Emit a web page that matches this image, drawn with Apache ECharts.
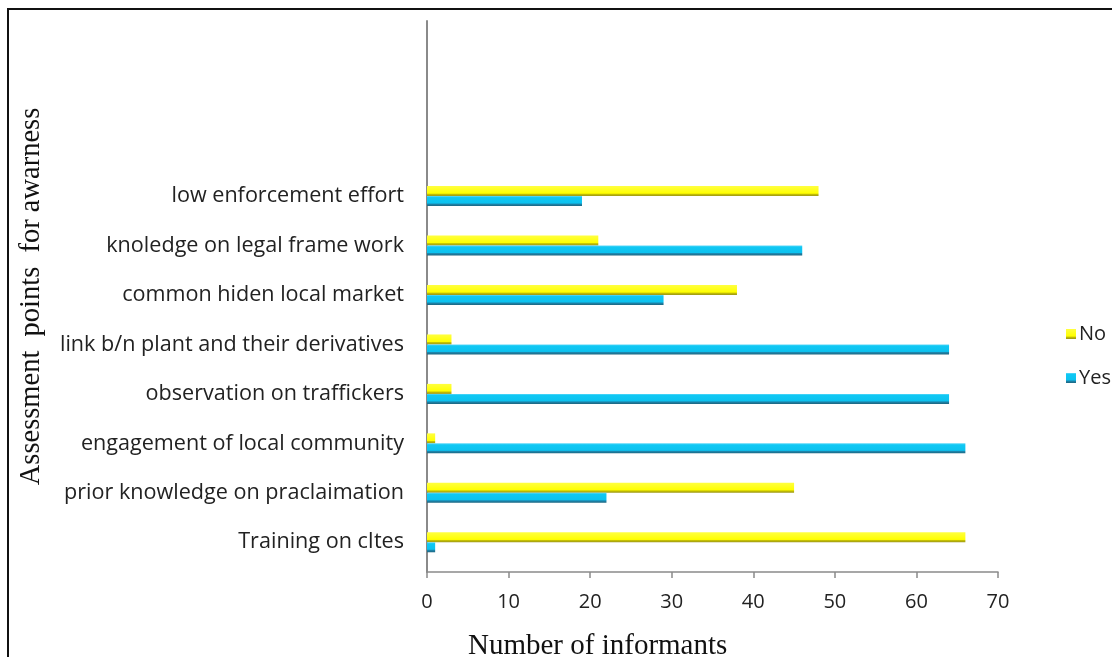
<!DOCTYPE html>
<html>
<head>
<meta charset="utf-8">
<script src="https://cdn.jsdelivr.net/npm/echarts@6/dist/echarts.min.js"></script>
<style>html,body{margin:0;padding:0;background:#fff}#c{width:1112px;height:657px}</style>
</head>
<body>
<div id="c"></div>
<script>
// Categories bottom to top (three blank rows at the top, as in the source chart)
const categories = ["Training on cItes", "prior knowledge on praclaimation", "engagement of local community",
  "observation on traffickers", "link b/n plant and their derivatives", "common hiden local market",
  "knoledge on legal frame work", "low enforcement effort", "", "", ""];
const noValues  = [66, 45, 1, 3, 3, 38, 21, 48, null, null, null];
const yesValues = [1, 22, 66, 64, 64, 29, 46, 19, null, null, null];
const xTicks = [0, 10, 20, 30, 40, 50, 60, 70];

const chart = echarts.init(document.getElementById('c'));
const labelFont = 'Open Sans';
const serif = 'Liberation Serif';

const yellowGrad = new echarts.graphic.LinearGradient(0, 0, 0, 1, [
  {offset: 0, color: '#FFFF40'}, {offset: 0.72, color: '#FFFF00'},
  {offset: 0.8, color: '#C9C400'}, {offset: 1, color: '#9A9518'}]);
const blueGrad = new echarts.graphic.LinearGradient(0, 0, 0, 1, [
  {offset: 0, color: '#5ED8F8'}, {offset: 0.15, color: '#10C8F4'}, {offset: 0.7, color: '#0CC2EF'},
  {offset: 0.8, color: '#1C86AD'}, {offset: 1, color: '#1D6580'}]);

chart.setOption({
  animation: false,
  title: {
    text: 'Number of informants', left: 463, top: 627,
    textStyle: {fontFamily: serif, fontSize: 29, fontWeight: 'normal', color: '#111'}
  },
  legend: {
    data: ['No', 'Yes'], orient: 'vertical', left: 1061, top: 319,
    itemWidth: 10, itemHeight: 10, itemGap: 24, icon: 'rect',
    textStyle: {fontFamily: labelFont, fontSize: 20, color: '#222', padding: [0, 0, 0, -2]}
  },
  grid: [
    {left: 427, right: 114, top: 23, bottom: 90},  // bars
    {left: 427, right: 114, top: 21, bottom: 85}   // visible frame axes
  ],
  xAxis: [
    {gridIndex: 0, type: 'value', min: 0, max: 70, interval: 10, show: false},
    {gridIndex: 1, type: 'value', min: 0, max: 70, interval: 10,
      axisLine: {show: true, lineStyle: {color: '#8a8a8a', width: 1.5}},
      axisTick: {show: true, length: 6, lineStyle: {color: '#8a8a8a', width: 1.5}},
      splitLine: {show: false},
      axisLabel: {margin: 20, fontFamily: labelFont, fontSize: 20, color: '#222',
        formatter: v => xTicks.includes(v) ? String(v) : ''}}
  ],
  yAxis: [
    {gridIndex: 0, type: 'category', data: categories,
      axisLine: {show: false}, axisTick: {show: false},
      axisLabel: {margin: 23, fontFamily: labelFont, fontSize: 21.6, color: '#222'}},
    {gridIndex: 1, type: 'value', min: 0, max: 1,
      axisLine: {show: true, lineStyle: {color: '#8a8a8a', width: 2}},
      axisTick: {show: false}, axisLabel: {show: false}, splitLine: {show: false},
      name: 'Assessment  points  for awarness', nameLocation: 'middle', nameRotate: 90, nameGap: 381,
      nameTextStyle: {fontFamily: serif, fontSize: 28.5, color: '#111'}}
  ],
  series: [
    {name: 'No', type: 'bar', xAxisIndex: 0, yAxisIndex: 0, data: noValues,
      barWidth: 10, barGap: '0%', itemStyle: {color: yellowGrad}},
    {name: 'Yes', type: 'bar', xAxisIndex: 0, yAxisIndex: 0, data: yesValues,
      barWidth: 10, barGap: '0%', itemStyle: {color: blueGrad}}
  ],
  graphic: [
    {type: 'rect', shape: {x: 8, y: 9, width: 1200, height: 700}, silent: true,
      style: {fill: 'none', stroke: '#111', lineWidth: 2}}
  ]
});
</script>
</body>
</html>
